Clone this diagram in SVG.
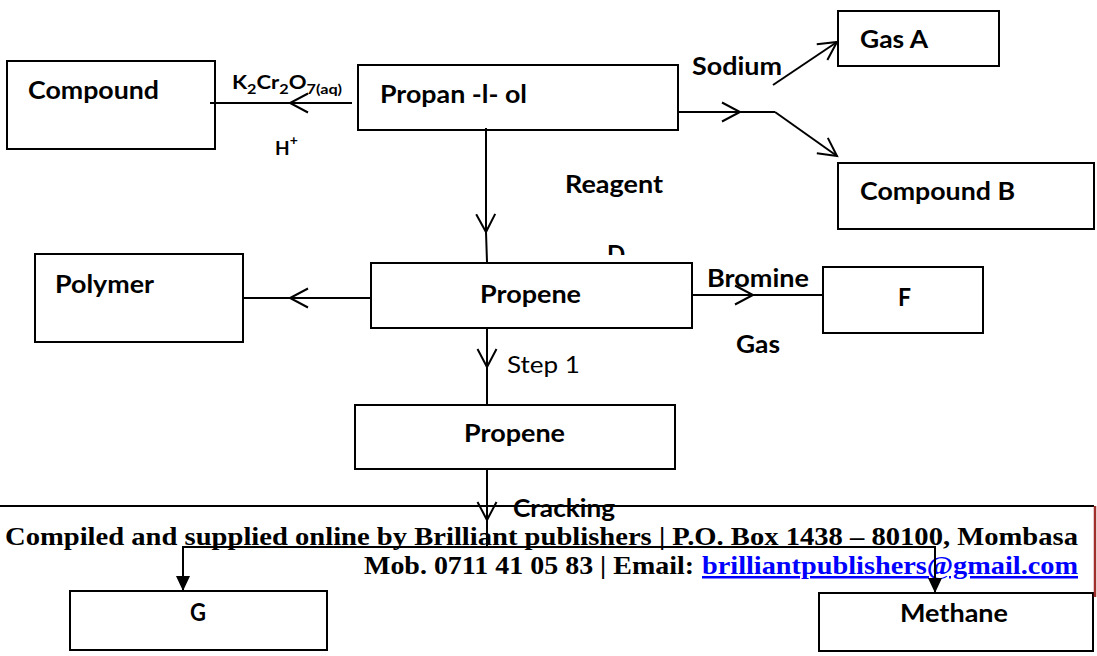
<svg xmlns="http://www.w3.org/2000/svg" width="1097" height="656" viewBox="0 0 1097 656">
  <style>
    .box { fill: #fff; stroke: #000; stroke-width: 2; }
    .lbl { font-family: Lato, "Liberation Sans", sans-serif; font-weight: bold; font-size: 24px; fill: #000; }
    .reg { font-family: Lato, "Liberation Sans", sans-serif; font-weight: normal; font-size: 23px; fill: #000; }
    .chem { font-family: Lato, "Liberation Sans", sans-serif; font-weight: bold; font-size: 19px; fill: #000; }
    .sub { font-size: 14px; }
    .foot { font-family: "Liberation Serif", serif; font-weight: bold; font-size: 25px; fill: #000; }
    .link { fill: #0000ff; text-decoration: underline; }
    .wire { fill: none; stroke: #000; stroke-width: 2; }
  </style>
  <defs>
    <marker id="chev" markerUnits="userSpaceOnUse" viewBox="-22 -12 26 24" refX="0" refY="0" markerWidth="26" markerHeight="24" orient="auto">
      <path d="M -18 -9.5 L 0 0 L -18 9.5" fill="none" stroke="#000" stroke-width="2"/>
    </marker>
    <marker id="tri" markerUnits="userSpaceOnUse" viewBox="-16 -8 17 16" refX="0" refY="0" markerWidth="17" markerHeight="16" orient="auto">
      <path d="M -15 -7 L 0 0 L -15 7 Z" fill="#000"/>
    </marker>
    <clipPath id="clipD">
      <rect x="595" y="230" width="40" height="25"/>
    </clipPath>
  </defs>

  <!-- nodes -->
  <g id="compound">
    <rect class="box" x="7" y="61" width="208" height="88"/>
    <text class="lbl" x="28" y="99" textLength="131" lengthAdjust="spacingAndGlyphs">Compound</text>
  </g>
  <g id="propanol">
    <rect class="box" x="358" y="65" width="320" height="65"/>
    <text class="lbl" x="380" y="103" textLength="147" lengthAdjust="spacingAndGlyphs">Propan -l- ol</text>
  </g>
  <g id="gas-a">
    <rect class="box" x="838" y="11" width="161" height="55"/>
    <text class="lbl" x="860" y="48" textLength="68" lengthAdjust="spacingAndGlyphs">Gas A</text>
  </g>
  <g id="compound-b">
    <rect class="box" x="838" y="163" width="256" height="66"/>
    <text class="lbl" x="860" y="200" textLength="155" lengthAdjust="spacingAndGlyphs">Compound B</text>
  </g>
  <g id="polymer">
    <rect class="box" x="35" y="254" width="208" height="88"/>
    <text class="lbl" x="55" y="293" textLength="99" lengthAdjust="spacingAndGlyphs">Polymer</text>
  </g>
  <g id="propene-1">
    <rect class="box" x="371" y="263" width="321" height="65"/>
    <text class="lbl" x="480" y="303" textLength="101" lengthAdjust="spacingAndGlyphs">Propene</text>
  </g>
  <g id="f">
    <rect class="box" x="823" y="267" width="160" height="66"/>
    <text class="lbl" x="898" y="306" textLength="13" lengthAdjust="spacingAndGlyphs">F</text>
  </g>
  <g id="propene-2">
    <rect class="box" x="355" y="405" width="320" height="64"/>
    <text class="lbl" x="464" y="442" textLength="101" lengthAdjust="spacingAndGlyphs">Propene</text>
  </g>
  <g id="g">
    <rect class="box" x="70" y="591" width="257" height="59"/>
    <text class="lbl" x="190" y="621" textLength="16" lengthAdjust="spacingAndGlyphs">G</text>
  </g>
  <g id="methane">
    <rect class="box" x="819" y="593" width="274" height="58"/>
    <text class="lbl" x="900" y="622" textLength="108" lengthAdjust="spacingAndGlyphs">Methane</text>
  </g>

  <!-- reaction labels -->
  <g id="labels">
    <text class="chem" x="232" y="89" textLength="110" lengthAdjust="spacingAndGlyphs">K<tspan class="sub" dy="5">2</tspan><tspan dy="-5">Cr</tspan><tspan class="sub" dy="5">2</tspan><tspan dy="-5">O</tspan><tspan class="sub" dy="5">7(aq)</tspan></text>
    <text class="chem" x="275" y="155">H<tspan class="sub" dy="-10">+</tspan></text>
    <text class="lbl" x="692" y="75" textLength="90" lengthAdjust="spacingAndGlyphs">Sodium</text>
    <text class="lbl" x="565" y="193" textLength="98" lengthAdjust="spacingAndGlyphs">Reagent</text>
    <text class="lbl" x="607" y="263" clip-path="url(#clipD)">D</text>
    <text class="lbl" x="707" y="287" textLength="102" lengthAdjust="spacingAndGlyphs">Bromine</text>
    <text class="lbl" x="736" y="353" textLength="44" lengthAdjust="spacingAndGlyphs">Gas</text>
    <text class="reg" x="507" y="373" textLength="73" lengthAdjust="spacingAndGlyphs">Step 1</text>
    <text class="lbl" x="513" y="517" textLength="102" lengthAdjust="spacingAndGlyphs">Cracking</text>
  </g>

  <!-- page footer -->
  <g id="footer">
    <line x1="0" y1="506" x2="1094" y2="506" stroke="#000" stroke-width="2"/>
    <line x1="1095" y1="506" x2="1095" y2="597" stroke="#a0302c" stroke-width="2.5"/>
    <text class="foot" x="5" y="545" textLength="1073" lengthAdjust="spacingAndGlyphs">Compiled and supplied online by Brilliant publishers | P.O. Box 1438 – 80100, Mombasa</text>
    <text class="foot" x="364" y="574" textLength="330" lengthAdjust="spacingAndGlyphs">Mob. 0711 41 05 83 | Email:</text>
    <text class="foot link" x="702" y="574" textLength="376" lengthAdjust="spacingAndGlyphs">brilliantpublishers@gmail.com</text>
  </g>

  <!-- connectors -->
  <g id="connectors">
    <path class="wire" d="M 352 103 L 290 103 L 210 103" marker-mid="url(#chev)"/>
    <path class="wire" d="M 773 85 L 837 42" marker-end="url(#chev)"/>
    <path class="wire" d="M 678 112 L 740 112 L 775 112" marker-mid="url(#chev)"/>
    <path class="wire" d="M 775 112 L 837 156" marker-end="url(#chev)"/>
    <path class="wire" d="M 486 128 L 486 232 L 487 262" stroke-width="3" marker-mid="url(#chev)"/>
    <path class="wire" d="M 371 298 L 290 298 L 260 298" marker-mid="url(#chev)"/>
    <path class="wire" d="M 243 298 L 290 298" stroke-width="3.5"/>
    <path class="wire" d="M 692 295 L 753 295 L 823 295" marker-mid="url(#chev)"/>
    <path class="wire" d="M 487 328 L 487 367 L 487 405" stroke-width="2.5" marker-mid="url(#chev)"/>
    <path class="wire" d="M 487 470 L 487 520 L 487 547" marker-mid="url(#chev)"/>
    <path class="wire" d="M 487 547 L 183 547 L 183 591" marker-end="url(#tri)"/>
    <path class="wire" d="M 487 547 L 935 547 L 935 593" marker-end="url(#tri)"/>
  </g>
</svg>
